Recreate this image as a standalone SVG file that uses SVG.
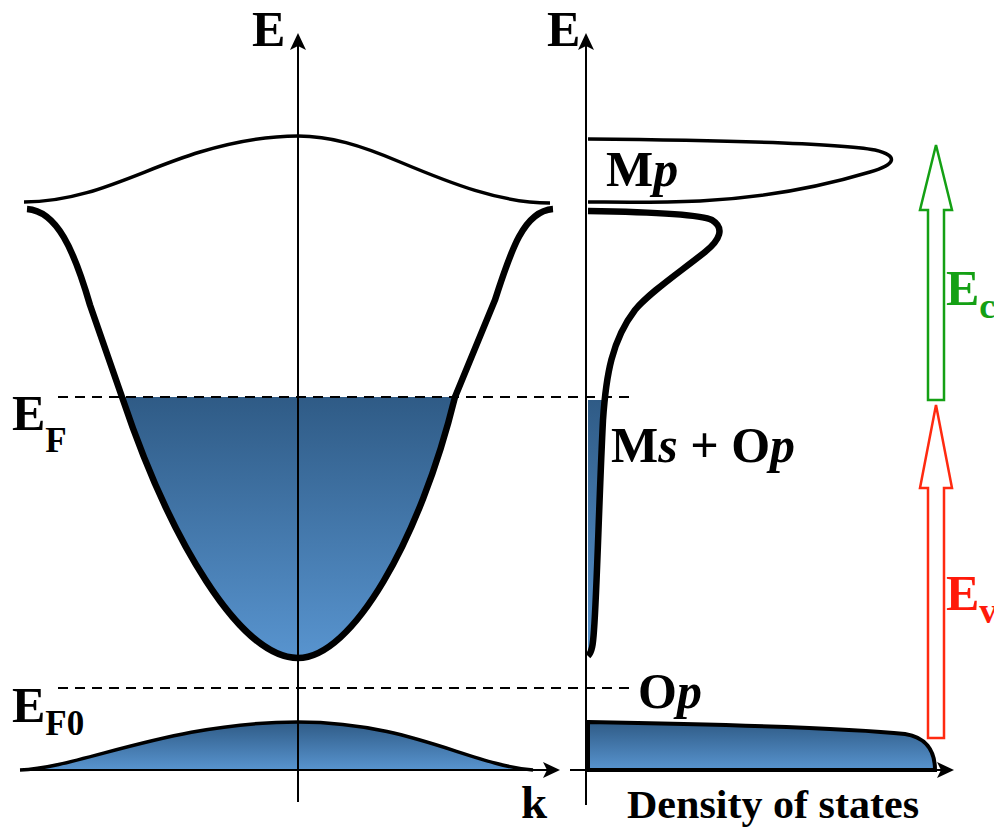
<svg xmlns="http://www.w3.org/2000/svg" width="994" height="830" viewBox="0 0 994 830">
<defs>
<linearGradient id="blue" x1="0" y1="0" x2="0" y2="1">
<stop offset="0" stop-color="#2F5B86"/>
<stop offset="1" stop-color="#5894CF"/>
</linearGradient>
<style>
.ax{stroke:#000;stroke-width:2;fill:none}
.thin{stroke:#000;stroke-width:3.5;fill:none;stroke-linecap:butt}
.thick{stroke:#000;stroke-width:6.5;fill:none;stroke-linecap:butt}
.dash{stroke:#000;stroke-width:2;stroke-dasharray:10 7;fill:none}
.lbl{font-family:"Liberation Serif","Times New Roman",serif;font-weight:bold;fill:#000}
.head{fill:#000;stroke:none}
</style>
</defs>
<rect width="994" height="830" fill="#fff"/>
<g id="band-structure">
<path d="M122,397 C170,540 240,658 298,658 C352,658 420,540 455,397 Z" fill="url(#blue)"/>
<path d="M20,770 C80,768 170,722 298,722 C410,722 470,765 533,770 Z" fill="url(#blue)"/>
<path class="thin" d="M24,202 C90,202 140,170 200,152 C240,140 270,136 298,136 C330,136 360,145 400,162 C450,183 500,203 550,203"/>
<path class="thick" d="M27,209 C57,211 74,250 90,305 L122,397 C170,540 240,658 298,658 C352,658 420,540 455,397 L495,300 C511,250 524,211 553,209"/>
<path class="thin" d="M20,770 C80,768 170,722 298,722 C410,722 470,765 533,770"/>
</g>
<g id="dos">
<path d="M588,400 L603,400 C599,500 597,590 594,630 C593,645 592,652 588,656 Z" fill="url(#blue)"/>
<path d="M588,722 C700,724 850,728 905,734 C925,737 935,750 935,770 L588,770 Z" fill="url(#blue)" stroke="#000" stroke-width="4"/>
<path class="thin" d="M588,139 C700,140 840,143 875,150 C900,156 895,165 870,172 C820,187 760,198 700,201 C650,203 610,202 588,202"/>
<path class="thick" d="M588,211 C650,212 700,214 712,220 C725,228 720,240 705,252 C680,272 650,292 635,310 C612,340 606,375 603,420 C599,500 597,590 594,630 C593,645 592,652 588,656"/>
</g>
<g id="connectors">
<line class="dash" x1="58" y1="397" x2="632" y2="397"/>
<line class="dash" x1="58" y1="688" x2="632" y2="688"/>
<line class="ax" x1="298" y1="802" x2="298" y2="40"/>
<path class="head" d="M298,33 L306,50 L298,46 L290,50 Z"/>
<line class="ax" x1="586" y1="805" x2="586" y2="40"/>
<path class="head" d="M586,33 L594,50 L586,46 L578,50 Z"/>
<line class="ax" x1="20" y1="770" x2="552" y2="770"/>
<path class="head" d="M560,770 L543,762 L547,770 L543,778 Z"/>
<line class="ax" x1="570" y1="770" x2="946" y2="770"/>
<path class="head" d="M954,770 L937,762 L941,770 L937,778 Z"/>
</g>
<g id="arrow-ec">
<path d="M928,400 L928,210 L920,210 L936,145 L952,210 L944,210 L944,400 Z" fill="#fff" stroke="#14A014" stroke-width="2.5"/>
</g>
<g id="arrow-ev">
<path d="M928,738 L928,488 L920,488 L936,405 L952,488 L944,488 L944,738 Z" fill="#fff" stroke="#FF2A10" stroke-width="2.5"/>
</g>
<g id="labels">
<text class="lbl" x="252" y="46" font-size="50">E</text>
<text class="lbl" x="547" y="46" font-size="50">E</text>
<text class="lbl" x="521" y="818" font-size="47">k</text>
<text class="lbl" x="627" y="818" font-size="39" textLength="292" lengthAdjust="spacingAndGlyphs">Density of states</text>
<text class="lbl" x="12" y="430" font-size="50">E<tspan font-size="35" dy="22">F</tspan></text>
<text class="lbl" x="12" y="722" font-size="50">E<tspan font-size="35" dy="13">F0</tspan></text>
<text class="lbl" x="606" y="186" font-size="50">M<tspan font-style="italic">p</tspan></text>
<text class="lbl" x="611" y="462" font-size="50">M<tspan font-style="italic">s</tspan> + O<tspan font-style="italic">p</tspan></text>
<text class="lbl" x="638" y="708" font-size="50">O<tspan font-style="italic">p</tspan></text>
<text class="lbl" x="946" y="305" font-size="50" style="fill:#14A014">E<tspan font-size="36" dy="13">c</tspan></text>
<text class="lbl" x="946" y="610" font-size="50" style="fill:#FF1A0A">E<tspan font-size="36" dy="13">v</tspan></text>
</g>
</svg>
